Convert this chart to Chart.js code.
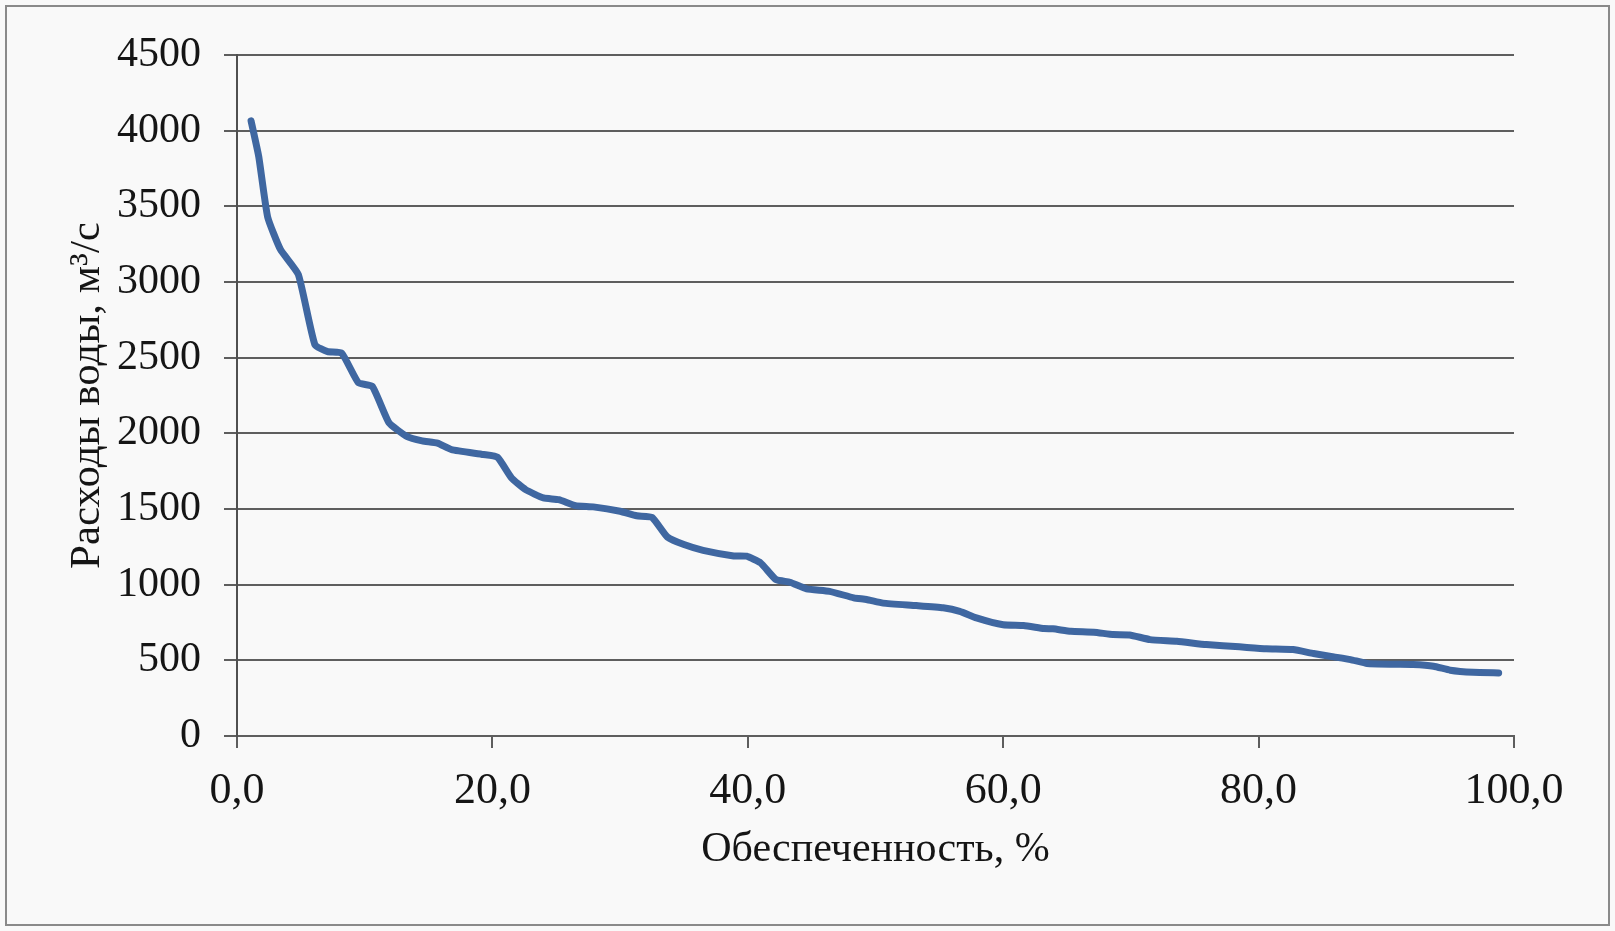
<!DOCTYPE html>
<html>
<head>
<meta charset="utf-8">
<script src="https://cdn.jsdelivr.net/npm/chart.js@4.4.1/dist/chart.umd.min.js"></script>
<style>
    html, body { margin: 0; padding: 0; background: #f9f9f9; }
    #wrap { position: relative; width: 1615px; height: 931px; }
    #frame { position: absolute; left: 5px; top: 5px; width: 1601px; height: 917px; border: 2px solid #8a8a8a; pointer-events: none; }
</style>
</head>
<body>
<div id="wrap">
    <canvas id="flowChart" width="1615" height="931"></canvas>
    <div id="frame"></div>
</div>
<script>
// Обеспеченность, % (x) and расходы воды, м3/с (y)
const probability = [1.1, 1.7, 2.4, 3.4, 4.8, 6.1, 7.1, 8.2, 9.5, 10.6, 11.9, 13.3, 14.5, 15.7, 16.8,
    19.3, 20.4, 21.5, 22.6, 24.0, 25.2, 26.5, 27.9, 30.0, 31.3, 32.5, 33.7, 35.0, 36.5, 38.9, 39.9,
    41.0, 42.2, 43.3, 44.6, 46.4, 48.3, 49.3, 50.6, 53.2, 55.3, 56.6, 57.9, 60.0, 61.6, 63.2, 63.9,
    65.3, 67.1, 68.6, 69.9, 71.5, 73.6, 75.9, 78.5, 80.6, 82.7, 84.3, 85.9, 87.2, 88.5, 90.6, 92.1,
    93.7, 95.0, 96.8, 98.8];
const discharge = [4065, 3830, 3430, 3215, 3050, 2585, 2540, 2530, 2335, 2310, 2070, 1980, 1950, 1935, 1892,
    1860, 1842, 1705, 1628, 1573, 1562, 1522, 1514, 1485, 1455, 1445, 1315, 1265, 1227, 1190, 1188,
    1144, 1034, 1016, 972, 956, 913, 902, 878, 862, 847, 824, 781, 735, 730, 710, 708,
    692, 686, 670, 668, 637, 626, 604, 589, 576, 571, 545, 523, 505, 479, 474, 472,
    461, 435, 421, 417];

const xTicks = [0, 20, 40, 60, 80, 100];
const yTicks = [0, 500, 1000, 1500, 2000, 2500, 3000, 3500, 4000, 4500];

const xTitle = 'Обеспеченность, %';
const yTitle = 'Расходы воды, м³/с';

const gridColor = '#5e5e5e';
const textColor = '#151515';
const serif = 'Liberation Serif';

document.addEventListener('DOMContentLoaded', function() {
    const ctx = document.getElementById('flowChart');

    const points = probability.map((p, i) => ({ x: p, y: discharge[i] }));

    new Chart(ctx, {
        type: 'line',
        data: {
            datasets: [{
                data: points,
                borderColor: '#3f67a1',
                borderWidth: 7,
                borderJoinStyle: 'round',
                borderCapStyle: 'round',
                pointRadius: 0,
                tension: 0.15,
                fill: false
            }]
        },
        options: {
            responsive: false,
            animation: false,
            devicePixelRatio: 1,
            layout: { padding: { left: 0, top: 55, right: 101, bottom: 0 } },
            plugins: {
                legend: { display: false },
                tooltip: { enabled: false }
            },
            scales: {
                x: {
                    type: 'linear',
                    min: xTicks[0],
                    max: xTicks[xTicks.length - 1],
                    afterBuildTicks: s => { s.ticks = xTicks.map(v => ({ value: v })); },
                    afterFit: s => { s.height = 195; },
                    grid: { drawOnChartArea: false, drawTicks: true, tickLength: 12, color: gridColor, lineWidth: 2 },
                    border: { display: true, color: gridColor, width: 2 },
                    ticks: {
                        padding: 17,
                        color: textColor,
                        font: { family: serif, size: 44 },
                        maxRotation: 0,
                        callback: v => v.toFixed(1).replace('.', ',')
                    },
                    title: {
                        display: true,
                        text: xTitle,
                        color: textColor,
                        font: { family: serif, size: 42 },
                        padding: { top: 0, bottom: 56 }
                    }
                },
                y: {
                    type: 'linear',
                    min: yTicks[0],
                    max: yTicks[yTicks.length - 1],
                    afterBuildTicks: s => { s.ticks = yTicks.map(v => ({ value: v })); },
                    afterFit: s => { s.width = 237; },
                    grid: { drawOnChartArea: true, drawTicks: true, tickLength: 13, color: gridColor, lineWidth: 2 },
                    border: { display: true, color: '#505050', width: 2 },
                    ticks: {
                        padding: 23,
                        color: textColor,
                        font: { family: serif, size: 42 },
                        callback: v => String(v)
                    },
                    title: {
                        display: true,
                        text: yTitle,
                        color: textColor,
                        font: { family: serif, size: 43 },
                        padding: { top: 62, bottom: 0 }
                    }
                }
            }
        }
    });
});
</script>
</body>
</html>
